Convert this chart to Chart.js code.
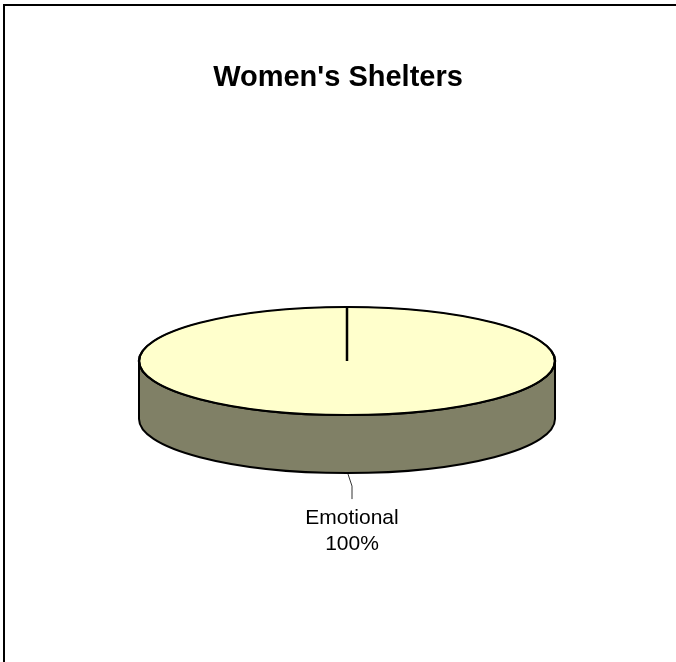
<!DOCTYPE html>
<html>
<head>
<meta charset="utf-8">
<script src="https://cdn.jsdelivr.net/npm/chart.js@4/dist/chart.umd.min.js"></script>
<style>
  body { margin: 0; background: #fff; }
  #wrap { position: relative; width: 676px; height: 662px; }
  #frame { position: absolute; left: 3px; top: 4px; right: 0; bottom: 0;
           border-top: 2px solid #000; border-left: 2px solid #000; pointer-events: none; }
</style>
</head>
<body>
<div id="wrap">
  <canvas id="shelterPie" width="676" height="662"></canvas>
  <div id="frame"></div>
</div>
<script>
// chart data
const categories = ["Emotional"];
const values = [100];
const sliceColors = ["#FFFFCC"];
const sideColors = ["#808066"];

// 3d look: squash the pie and draw a wall under it
const TILT = 0.26;
const DEPTH = 58;
const SHIFT_X = 9;

const pie3d = {
    id: "pie3d",
    beforeDatasetsDraw(chart) {
        const ctx = chart.ctx;
        const arc = chart.getDatasetMeta(0).data[0];
        const cx = arc.x + SHIFT_X, cy = arc.y;
        const rx = arc.outerRadius, ry = rx * TILT;

        ctx.save();
        ctx.beginPath();
        ctx.moveTo(cx + rx, cy);
        ctx.lineTo(cx + rx, cy + DEPTH);
        ctx.ellipse(cx, cy + DEPTH, rx, ry, 0, 0, Math.PI);
        ctx.lineTo(cx - rx, cy);
        ctx.ellipse(cx, cy, rx, ry, 0, Math.PI, 0, true);
        ctx.closePath();
        ctx.fillStyle = sideColors[0];
        ctx.fill();
        ctx.lineWidth = 2;
        ctx.strokeStyle = "#000";
        ctx.stroke();
        ctx.restore();

        ctx.save();
        ctx.translate(cx, cy);
        ctx.scale(1, TILT);
        ctx.translate(-arc.x, -arc.y);
    },
    afterDatasetsDraw(chart) {
        const ctx = chart.ctx;
        ctx.restore();
        const arc = chart.getDatasetMeta(0).data[0];
        const cx = arc.x + SHIFT_X, cy = arc.y;
        const rx = arc.outerRadius, ry = rx * TILT;

        ctx.save();
        ctx.beginPath();
        ctx.ellipse(cx, cy, rx, ry, 0, 0, Math.PI * 2);
        ctx.lineWidth = 2;
        ctx.strokeStyle = "#000";
        ctx.stroke();

        // leader line + label
        const by = cy + ry + DEPTH;
        ctx.beginPath();
        ctx.moveTo(cx + 1, by + 1);
        ctx.lineTo(cx + 5, by + 13);
        ctx.lineTo(cx + 5, by + 26);
        ctx.lineWidth = 1;
        ctx.strokeStyle = "#333";
        ctx.stroke();

        const total = values.reduce((a, b) => a + b, 0);
        const pct = Math.round(values[0] / total * 100) + "%";
        ctx.fillStyle = "#000";
        ctx.font = "21px 'Liberation Sans', Arial, sans-serif";
        ctx.textAlign = "center";
        ctx.textBaseline = "alphabetic";
        ctx.fillText(categories[0], cx + 5, by + 51);
        ctx.fillText(pct, cx + 5, by + 77);
        ctx.restore();
    }
};

new Chart(document.getElementById("shelterPie"), {
    type: "pie",
    data: {
        labels: categories,
        datasets: [{
            data: values,
            backgroundColor: sliceColors,
            borderColor: "#000",
            borderWidth: 2.5
        }]
    },
    options: {
        responsive: false,
        animation: false,
        events: [],
        layout: { padding: { left: 128.75, right: 128.75, top: 0, bottom: 35.4 } },
        plugins: {
            legend: { display: false },
            tooltip: { enabled: false },
            title: {
                display: true,
                text: "Women's Shelters",
                color: "#000",
                font: { family: "'Liberation Sans', Arial, sans-serif", size: 29, weight: "bold" },
                padding: { top: 60.6, bottom: 0 }
            }
        }
    },
    plugins: [pie3d]
});
</script>
</body>
</html>
